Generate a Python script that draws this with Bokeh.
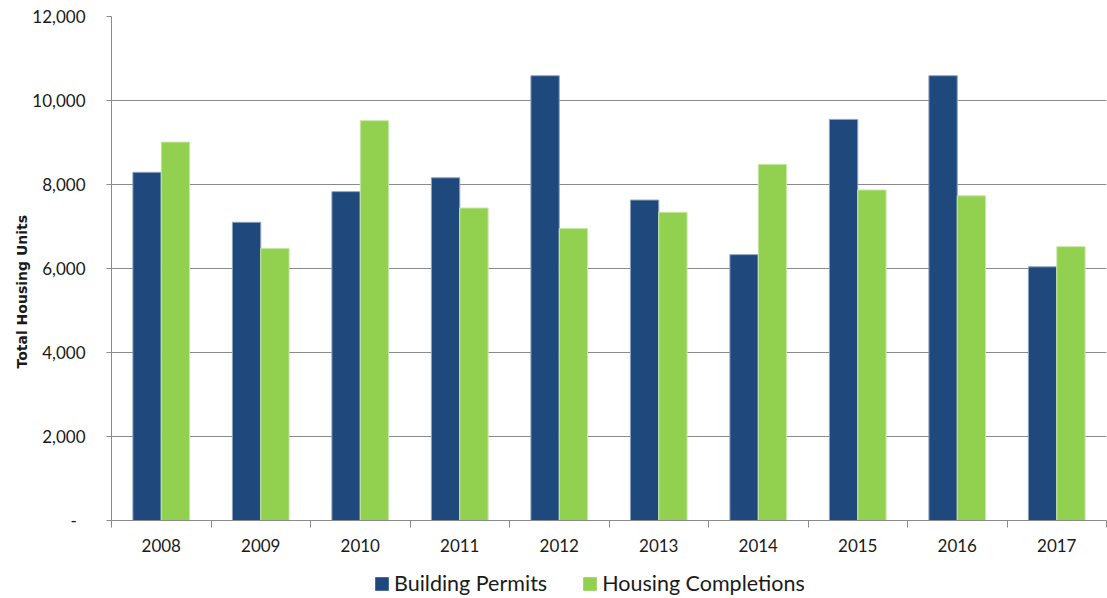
import numpy as np
from bokeh.plotting import figure
from bokeh.layouts import column
from bokeh.models import (ColumnDataSource, FixedTicker, NumeralTickFormatter,
                          Legend, LegendItem, Range1d, Title)
from bokeh.transform import dodge
from bokeh.embed import file_html
from bokeh.resources import INLINE

years = ["2008", "2009", "2010", "2011", "2012", "2013", "2014", "2015", "2016", "2017"]
building_permits = [8290, 7100, 7830, 8160, 10590, 7630, 6330, 9550, 10590, 6040]
housing_completions = [9010, 6480, 9520, 7440, 6950, 7340, 8480, 7870, 7730, 6520]
series_names = ["Building Permits", "Housing Completions"]
y_ticks = [0, 2000, 4000, 6000, 8000, 10000, 12000]

FONT = "Lato"
TXT = "#1a1a1a"
GRID = "#8a8a8a"
BLUE = "#1F497D"
GREEN = "#92D050"

n = len(years)
xc = [i + 0.5 for i in range(n)]
src = ColumnDataSource(dict(x=xc, bp=building_permits, hc=housing_completions))

p = figure(frame_width=995, frame_height=504, x_range=Range1d(0, n), y_range=Range1d(0, 12000),
           output_backend="svg", toolbar_location=None,
           min_border_left=111, min_border_right=1, min_border_top=16, min_border_bottom=42)
p.outline_line_color = None
p.background_fill_color = "white"
p.border_fill_color = "white"

bw = 0.285
r1 = p.vbar(x=dodge("x", -bw / 2, range=p.x_range), top="bp", bottom=0, width=bw, source=src,
            fill_color=BLUE, line_color="#8fa4be", line_width=1)
r2 = p.vbar(x=dodge("x", bw / 2, range=p.x_range), top="hc", bottom=0, width=bw, source=src,
            fill_color=GREEN, line_color="#c8e8a8", line_width=1)

# x axis
xa = p.xaxis[0]
xa.ticker = FixedTicker(ticks=xc, minor_ticks=list(range(n + 1)))
xa.major_label_overrides = {float(x): y for x, y in zip(xc, years)}
xa.major_tick_line_color = None
xa.major_tick_in = 0
xa.major_tick_out = 7
xa.minor_tick_in = 0
xa.minor_tick_out = 7
xa.minor_tick_line_color = GRID
xa.axis_line_color = GRID
xa.major_label_standoff = 11
xa.major_label_text_font = FONT
xa.major_label_text_font_size = "17px"
xa.major_label_text_color = TXT

# y axis
ya = p.yaxis[0]
ya.ticker = FixedTicker(ticks=y_ticks, minor_ticks=[])
ya.formatter = NumeralTickFormatter(format="0,0")
ya.major_label_overrides = {0: "-\u00a0\u00a0"}
ya.major_tick_in = 0
ya.major_tick_out = 5
ya.major_tick_line_color = GRID
ya.minor_tick_line_color = None
ya.axis_line_color = GRID
ya.major_label_standoff = 21
ya.major_label_text_font = FONT
ya.major_label_text_font_size = "17px"
ya.major_label_text_color = TXT

ytitle = Title(text="Total Housing Units", align="left", offset=152, standoff=0,
               text_font="DejaVu Sans", text_font_style="bold", text_font_size="14px",
               text_color=TXT)
p.add_layout(ytitle, "left")

p.xgrid.grid_line_color = None
p.ygrid.ticker = FixedTicker(ticks=y_ticks, minor_ticks=[])
p.ygrid.grid_line_color = GRID
p.ygrid.grid_line_width = 1

# legend strip below the chart (its zero-width bars draw nothing; only the legend shows)
pl = figure(width=1107, height=36, x_range=Range1d(0, n), y_range=Range1d(-2, -1),
            output_backend="svg", toolbar_location=None,
            min_border_left=0, min_border_right=0, min_border_top=0, min_border_bottom=0)
pl.axis.visible = False
pl.grid.visible = False
pl.outline_line_color = None
pl.background_fill_color = "white"
pl.border_fill_color = "white"
lr1 = pl.vbar(x="x", top="bp", bottom=0, width=0, source=src, fill_color=BLUE, line_color=None)
lr2 = pl.vbar(x="x", top="hc", bottom=0, width=0, source=src, fill_color=GREEN, line_color=None)

legend = Legend(items=[LegendItem(label=series_names[0], renderers=[lr1]),
                       LegendItem(label=series_names[1], renderers=[lr2])],
                orientation="horizontal", location=(262, 2),
                label_text_font=FONT, label_text_font_size="21.5px", label_text_color=TXT,
                glyph_width=17, glyph_height=17, label_standoff=4, spacing=34,
                padding=0, margin=0, border_line_color=None, background_fill_alpha=0)
pl.add_layout(legend, "center")

layout = column(p, pl, spacing=0)
open("out.html", "w").write(file_html(layout, INLINE))
